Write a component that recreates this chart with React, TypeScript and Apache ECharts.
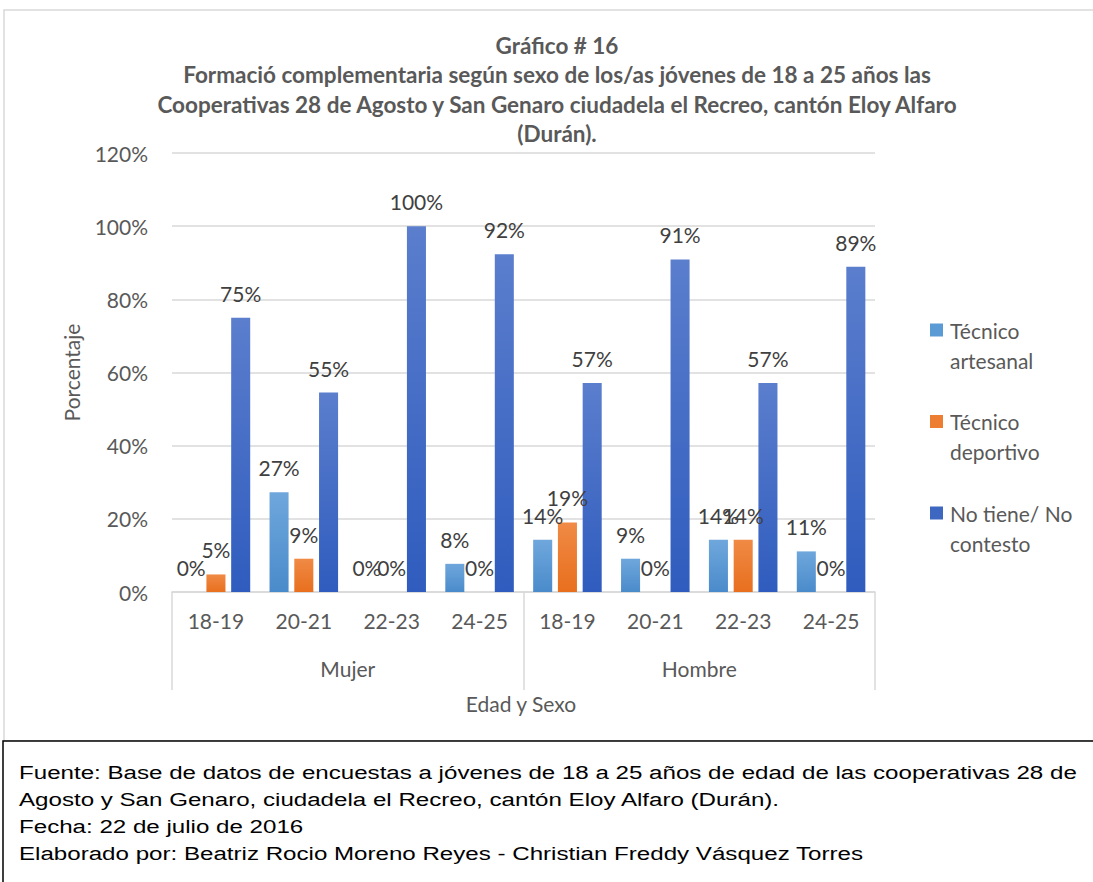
import React, { useEffect, useRef } from "react";
import * as echarts from "echarts";

const categories = ["18-19", "20-21", "22-23", "24-25", "18-19", "20-21", "22-23", "24-25"];
const groups = ["Mujer", "Hombre"];
const seriesNames = ["Técnico\nartesanal", "Técnico\ndeportivo", "No tiene/ No\ncontesto"];
const artesanal = [0, 0.273, 0, 0.077, 0.143, 0.091, 0.143, 0.111];
const deportivo = [0.048, 0.091, 0, 0, 0.19, 0, 0.143, 0];
const noTiene = [0.75, 0.545, 1.0, 0.923, 0.571, 0.909, 0.571, 0.889];
const yTicks = { min: 0, max: 1.2, interval: 0.2 };
const titleLines = [
  "Gráfico # 16",
  "Formació complementaria según sexo de los/as jóvenes de 18 a 25 años las",
  "Cooperativas 28 de Agosto y San Genaro ciudadela el Recreo, cantón Eloy Alfaro",
  "(Durán).",
];
const footerLines = [
  "Fuente: Base de datos de encuestas a jóvenes de 18 a 25 años de edad de las cooperativas 28 de",
  "Agosto y San Genaro, ciudadela el Recreo, cantón Eloy Alfaro (Durán).",
  "Fecha: 22 de julio de 2016",
  "Elaborado por: Beatriz Rocio Moreno Reyes - Christian Freddy Vásquez Torres",
];

const FONT = "Lato, 'Open Sans', sans-serif";

function grad(top: string, bottom: string) {
  return new echarts.graphic.LinearGradient(0, 0, 0, 1, [
    { offset: 0, color: top },
    { offset: 1, color: bottom },
  ]);
}

export default function App() {
  const ref = useRef<HTMLDivElement>(null);
  useEffect(() => {
    if (!ref.current) return;
    const chart = echarts.init(ref.current, null, { renderer: "svg" });
    const colors = [grad("#6FA7DC", "#4A8BCB"), grad("#F08A45", "#E86F1E"), grad("#5B7ECD", "#2F5CBE")];
    const legendColors = ["#5B9BD5", "#ED7D31", "#3E67C2"];
    const datas = [artesanal, deportivo, noTiene];
    const labelStyle = {
      show: true,
      position: "top",
      distance: 14,
      color: "#404040",
      fontSize: 21,
      fontFamily: FONT,
      formatter: (p: any) => Math.round(p.value * 100) + "%",
    };
    const legendGraphics: any[] = [];
    seriesNames.forEach((n, i) => {
      const y0 = 330 + i * 91.5;
      legendGraphics.push({
        type: "rect",
        shape: { x: 930, y: y0 - 6.5, width: 13, height: 13 },
        style: { fill: legendColors[i] },
        silent: true,
      });
      legendGraphics.push({
        type: "text",
        x: 950,
        y: y0 - 15,
        style: {
          text: n,
          fill: "#595959",
          font: `21px ${FONT}`,
          lineHeight: 30,
          textAlign: "left",
          textVerticalAlign: "top",
        },
      });
    });
    chart.setOption({
      animation: false,
      backgroundColor: "#ffffff",
      grid: { left: 172, right: 218, top: 153, bottom: 290, containLabel: false },
      xAxis: [
        {
          type: "category",
          data: categories,
          position: "bottom",
          axisLine: { show: true, lineStyle: { color: "#D9D9D9", width: 1.5 } },
          axisTick: { show: false },
          axisLabel: { color: "#595959", fontSize: 21, fontFamily: FONT, margin: 18, interval: 0 },
        },
        {
          type: "category",
          data: groups,
          position: "bottom",
          axisLine: { show: false },
          axisTick: { show: true, length: 98, interval: 0, lineStyle: { color: "#D9D9D9", width: 1.5 } },
          axisLabel: { color: "#595959", fontSize: 21, fontFamily: FONT, margin: 66, interval: 0 },
        },
      ],
      yAxis: {
        type: "value",
        min: yTicks.min,
        max: yTicks.max,
        interval: yTicks.interval,
        axisLine: { show: false },
        axisTick: { show: false },
        splitLine: { lineStyle: { color: "#D9D9D9", width: 1.5 } },
        axisLabel: {
          color: "#595959",
          fontSize: 21,
          fontFamily: FONT,
          margin: 24,
          formatter: (v: number) => Math.round(v * 100) + "%",
        },
        name: "Porcentaje",
        nameLocation: "middle",
        nameGap: 90,
        nameRotate: 90,
        nameTextStyle: { color: "#595959", fontSize: 21, fontFamily: FONT },
      },
      series: datas.map((d, i) => ({
        name: seriesNames[i],
        type: "bar",
        data: d,
        xAxisIndex: 0,
        barGap: "30%",
        barCategoryGap: "22%",
        itemStyle: { color: colors[i] },
        label: labelStyle,
      })),
      graphic: [
        {
          type: "rect",
          shape: { x: 4, y: 10, width: 1100, height: 731 },
          style: { fill: "none", stroke: "#D9D9D9", lineWidth: 1.5 },
          silent: true,
        },
        ...titleLines.map((t, i) => ({
          type: "text",
          x: 557,
          y: 45 + i * 29.5,
          style: {
            text: t,
            fill: "#595959",
            font: `bold 22.5px ${FONT}`,
            textAlign: "center",
            textVerticalAlign: "middle",
          },
        })),
        {
          type: "text",
          x: 521,
          y: 703,
          style: {
            text: "Edad y Sexo",
            fill: "#595959",
            font: `21px ${FONT}`,
            textAlign: "center",
            textVerticalAlign: "middle",
          },
        },
        ...legendGraphics,
        {
          type: "rect",
          shape: { x: 3, y: 741, width: 1100, height: 150 },
          style: { fill: "#ffffff", stroke: "#000000", lineWidth: 1.5 },
          silent: true,
        },
        ...footerLines.map((t, i) => ({
          type: "text",
          x: 19,
          y: 772 + i * 27,
          scaleX: 1.27,
          style: {
            text: t,
            fill: "#000000",
            font: "19px 'Liberation Sans', Arial, sans-serif",
            textAlign: "left",
            textVerticalAlign: "middle",
          },
        })),
      ],
    });
    return () => chart.dispose();
  }, []);
  return (
    <div
      ref={ref}
      style={{ position: "fixed", left: 0, top: 0, width: 1093, height: 882, background: "#fff" }}
    />
  );
}
